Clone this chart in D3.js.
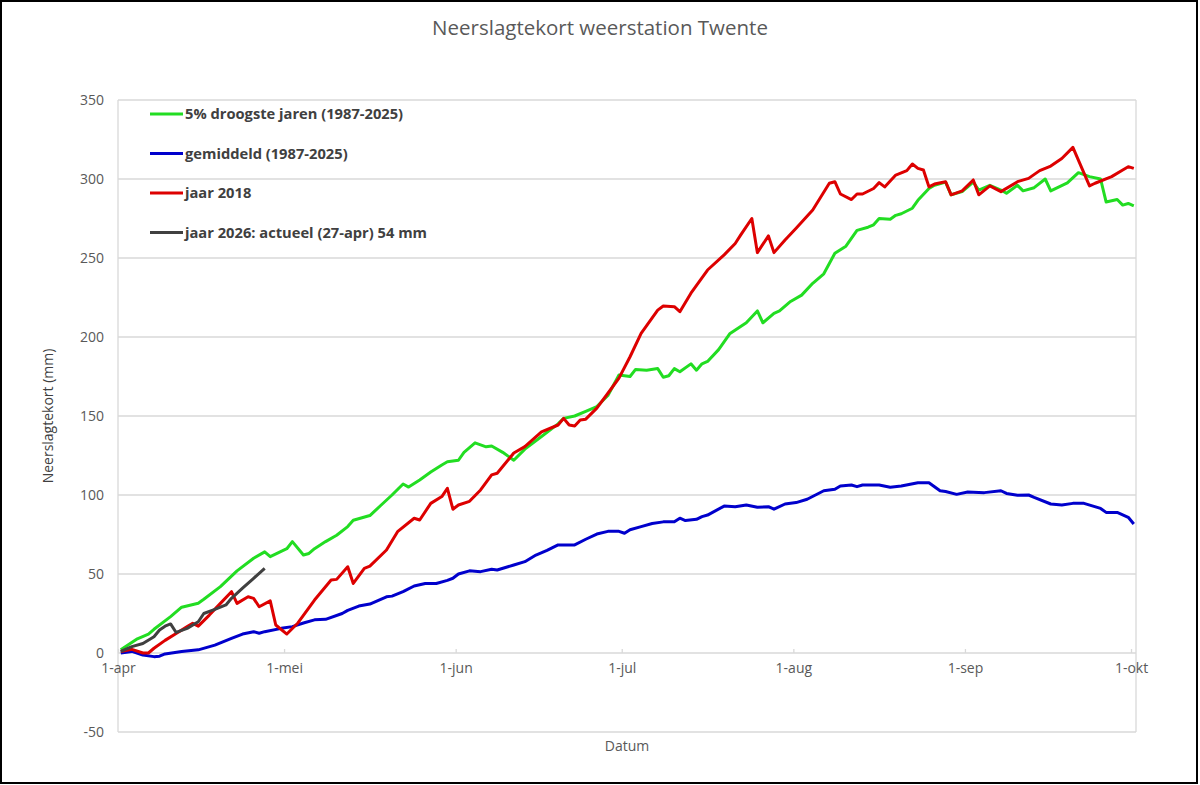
<!DOCTYPE html>
<html>
<head>
<meta charset="utf-8">
<script src="https://cdn.jsdelivr.net/npm/d3@7"></script>
<style>
    body { margin: 0; background: #fff; }
    svg { display: block; font-family: "Liberation Sans", "DejaVu Sans", sans-serif; }
</style>
</head>
<body>
<div id="chart"></div>
<script>
// Neerslagtekort weerstation Twente

// day offsets from 1-apr and values (mm)
const greenDays = [0, 3, 5, 6, 9, 11, 14, 15, 18, 21, 24, 26, 27, 30, 31, 33, 34, 35, 37, 39, 41, 42, 45, 47, 49, 51, 52, 54, 56, 58, 59, 61, 62, 64, 66, 67, 69, 71, 73, 76, 79, 80, 82, 84, 86, 88, 90, 92, 93, 95, 97, 98, 99, 100, 101, 103, 104, 105, 106, 108, 110, 113, 115, 116, 118, 119, 121, 123, 125, 127, 129, 131, 133, 135, 136, 137, 139, 140, 141, 143, 144, 146, 147, 149, 150, 152, 154, 155, 157, 159, 160, 162, 163, 165, 167, 168, 171, 173, 175, 177, 178, 180, 181, 182, 183];
const greenValues = [2, 9, 12, 15, 23, 29, 31.5, 34, 42, 52, 60, 64, 61, 66, 70.5, 62, 63, 66, 70.5, 74.5, 80, 84, 87, 93.5, 100, 107, 105, 109.5, 114.5, 119, 121, 122, 127, 133, 130.5, 131, 127, 122, 129, 137, 145, 148.5, 150, 153, 156, 163, 176, 175, 179.5, 179, 180, 174.5, 175.5, 180, 178, 183, 179, 183, 184.5, 192, 202, 209, 216.5, 209, 215, 216.5, 222.5, 226.5, 234, 240, 253, 257.5, 267.5, 269.5, 271, 275, 274.5, 277, 278, 281.5, 286.5, 294, 296, 298, 290, 292, 298, 293, 296, 293, 291, 296, 292.5, 294.5, 300, 292.5, 297.5, 304, 301.5, 300, 285.5, 287, 283.5, 284.5, 283];

const blueDays = [0, 2, 4, 6, 7, 8, 11, 14, 17, 20, 22, 24, 25, 26, 29, 31, 33, 35, 37, 40, 41, 43, 45, 48, 49, 51, 53, 55, 57, 59, 60, 61, 63, 65, 67, 68, 71, 73, 75, 77, 79, 82, 84, 86, 88, 90, 91, 92, 94, 96, 98, 100, 101, 102, 104, 105, 106, 109, 111, 113, 115, 117, 118, 120, 122, 124, 127, 129, 130, 132, 133, 134, 137, 139, 141, 144, 146, 148, 149, 151, 153, 156, 159, 160, 162, 164, 165, 168, 170, 172, 174, 177, 178, 180, 182, 183];
const blueValues = [0, 1, -1.3, -2.3, -2, -0.6, 1, 2, 5, 9.3, 12, 13.5, 12.5, 13.5, 15.6, 16.7, 19, 21, 21.3, 25, 27, 29.7, 31, 35.6, 36, 38.8, 42.4, 44, 44, 46, 47.3, 50, 52, 51.5, 53, 52.5, 55.7, 57.8, 62, 65, 68.4, 68.4, 72, 75.3, 77, 77, 75.8, 78, 80, 82, 83, 83, 85.3, 83.8, 84.6, 86.3, 87.3, 93, 92.6, 93.7, 92.2, 92.6, 91, 94.3, 95.2, 97.3, 102.7, 103.6, 105.7, 106.3, 105.3, 106.3, 106.3, 104.9, 105.7, 107.8, 107.8, 102.7, 102.2, 100.4, 101.9, 101.5, 102.7, 101, 99.8, 100, 98.5, 94.3, 93.7, 94.7, 94.7, 91.5, 89, 89, 85.9, 81.6];

const redDays = [0, 2, 4, 5, 6, 8, 10, 12, 13, 14, 16, 18, 20, 21, 23, 24, 25, 27, 28, 30, 32, 35, 38, 39, 41, 42, 44, 45, 48, 50, 53, 54, 56, 58, 59, 60, 61, 63, 65, 67, 68, 71, 73, 76, 79, 80, 81, 82, 83, 84, 86, 88, 90, 92, 94, 97, 98, 100, 101, 103, 106, 109, 111, 112, 114, 115, 117, 118, 120, 122, 125, 128, 129, 130, 132, 133, 134, 136, 137, 138, 140, 142, 143, 144, 145, 146, 147, 149, 150, 152, 154, 155, 157, 159, 162, 164, 166, 168, 170, 172, 175, 176, 179, 181, 182, 183];
const redValues = [1, 2.3, 0, 0, 3, 8, 12.4, 16.7, 18.8, 17, 24, 31.4, 38.8, 31.4, 35.6, 34.6, 29.3, 33, 17.7, 12, 19, 33.5, 46.2, 46.6, 54.6, 44, 53.6, 55, 65.2, 76.8, 85.3, 84.2, 94.7, 99, 104.2, 91, 93.7, 96, 103.2, 112.7, 113.8, 126.6, 130.6, 140, 144.3, 148.5, 144.3, 143.7, 147.5, 148, 155, 164.4, 174, 187.5, 202.3, 217, 219.6, 219.2, 216, 227.7, 242.4, 252, 259.2, 264.6, 275, 253.4, 264, 253.4, 261.4, 268.8, 280.4, 297.3, 298.3, 290.5, 287, 290.5, 290.5, 294, 297.7, 295, 302.5, 305.3, 309.5, 306.7, 305.7, 295, 296.8, 298.3, 290, 292.5, 299.4, 290, 295.6, 292, 298.3, 300.4, 305.3, 308.2, 313, 320, 295.6, 297.3, 301.5, 305.7, 307.8, 306.7];

const blackDays = [0, 2, 4, 6, 7, 8, 9, 10, 12, 14, 15, 17, 19, 20, 22, 24, 26];
const blackValues = [1, 4, 6, 10.3, 14.6, 17, 18.4, 13, 15.6, 19.8, 25, 27.6, 30.4, 34.6, 41, 47.3, 53.6];

const seriesNames = ["5% droogste jaren (1987-2025)", "gemiddeld (1987-2025)", "jaar 2018", "jaar 2026: actueel (27-apr) 54 mm"];
const seriesColors = ["#22dd22", "#0000cc", "#dd0000", "#404040"];
const yTicks = [-50, 0, 50, 100, 150, 200, 250, 300, 350];
const monthTicks = ["1-apr", "1-mei", "1-jun", "1-jul", "1-aug", "1-sep", "1-okt"];
const monthStarts = [0, 30, 61, 91, 122, 153, 183];

window.onload = init;

function init()
{
    const width = 1200, height = 785;
    const left = 118, right = 1136, top = 100, bottom = 732;

    const svg = d3.select("#chart")
        .append("svg")
        .attr("width", width)
        .attr("height", height);

    svg.append("rect")                                          // outer frame
        .attr("x", 1).attr("y", 1)
        .attr("width", width - 4).attr("height", height - 3)
        .attr("fill", "#fff")
        .attr("stroke", "#000")
        .attr("stroke-width", 2);

    const x = d3.scaleLinear().domain([0, 183.9]).range([left, right]);
    const y = d3.scaleLinear().domain([-50, 350]).range([bottom, top]);

    // grid lines
    svg.append("g")
        .selectAll("line")
        .data(yTicks)
        .join("line")
        .attr("x1", left).attr("x2", right)
        .attr("y1", d => y(d)).attr("y2", d => y(d))
        .attr("stroke", "#d9d9d9")
        .attr("stroke-width", 1.3);

    svg.append("line")
        .attr("x1", left).attr("x2", left)
        .attr("y1", top).attr("y2", bottom)
        .attr("stroke", "#d9d9d9").attr("stroke-width", 1.3);
    svg.append("line")
        .attr("x1", right).attr("x2", right)
        .attr("y1", top).attr("y2", bottom)
        .attr("stroke", "#d9d9d9").attr("stroke-width", 1.3);

    // y axis labels
    const yAxis = d3.axisLeft(y)
        .tickValues(yTicks)
        .tickFormat(d => String(d))                              // plain hyphen for -50
        .tickSize(0)
        .tickPadding(14);
    svg.append("g")
        .attr("transform", `translate(${left},0)`)
        .call(yAxis)
        .call(g => g.select(".domain").remove())
        .selectAll("text")
        .attr("fill", "#595959")
        .style("font-size", "14px")
        .style("font-family", "'Open Sans', sans-serif");

    // x axis on the zero line
    const xAxis = d3.axisBottom(x)
        .tickValues(monthStarts)
        .tickFormat((d, i) => monthTicks[i])
        .tickSize(4)
        .tickPadding(6);
    const xg = svg.append("g")
        .attr("transform", `translate(0,${y(0)})`)
        .call(xAxis);
    xg.select(".domain").remove();
    xg.selectAll(".tick line").attr("stroke", "#d9d9d9").attr("stroke-width", 1.3).attr("y1", -4).attr("y2", 0);
    xg.selectAll("text")
        .attr("fill", "#595959")
        .style("font-size", "14px")
        .style("font-family", "'Open Sans', sans-serif");

    // lines
    const series = [
        { days: greenDays, values: greenValues },
        { days: blueDays, values: blueValues },
        { days: redDays, values: redValues },
        { days: blackDays, values: blackValues }
    ];

    const line = d3.line()
        .x(d => x(d[0] + 0.5))
        .y(d => y(d[1]));

    series.forEach((s, i) => {
        svg.append("path")
            .datum(s.days.map((d, j) => [d, s.values[j]]))
            .attr("fill", "none")
            .attr("stroke", seriesColors[i])
            .attr("stroke-width", 3)
            .attr("stroke-linejoin", "round")
            .attr("d", line);
    });

    // legend
    const legend = svg.append("g")
        .selectAll("g")
        .data(seriesNames)
        .join("g")
        .attr("transform", (d, i) => `translate(150,${114 + i * 39.5})`);

    legend.append("line")
        .attr("x1", 0).attr("x2", 33)
        .attr("y1", 0).attr("y2", 0)
        .attr("stroke", (d, i) => seriesColors[i])
        .attr("stroke-width", 3);

    legend.append("text")
        .attr("x", 35)
        .attr("y", 5)
        .attr("fill", "#404040")
        .style("font-size", "14.7px")
        .style("font-weight", "bold")
        .style("font-family", "'Open Sans', sans-serif")
        .text(d => d);

    // titles
    svg.append("text")
        .attr("x", 600).attr("y", 35)
        .attr("text-anchor", "middle")
        .attr("fill", "#595959")
        .style("font-size", "20.5px")
        .style("font-family", "'Open Sans', sans-serif")
        .text("Neerslagtekort weerstation Twente");

    svg.append("text")
        .attr("transform", `translate(53,416) rotate(-90)`)
        .attr("text-anchor", "middle")
        .attr("fill", "#404040")
        .style("font-size", "14px")
        .style("font-family", "'Open Sans', sans-serif")
        .text("Neerslagtekort (mm)");

    svg.append("text")
        .attr("x", 627).attr("y", 751)
        .attr("text-anchor", "middle")
        .attr("fill", "#595959")
        .style("font-size", "14px")
        .style("font-family", "'Open Sans', sans-serif")
        .text("Datum");
}
</script>
</body>
</html>
